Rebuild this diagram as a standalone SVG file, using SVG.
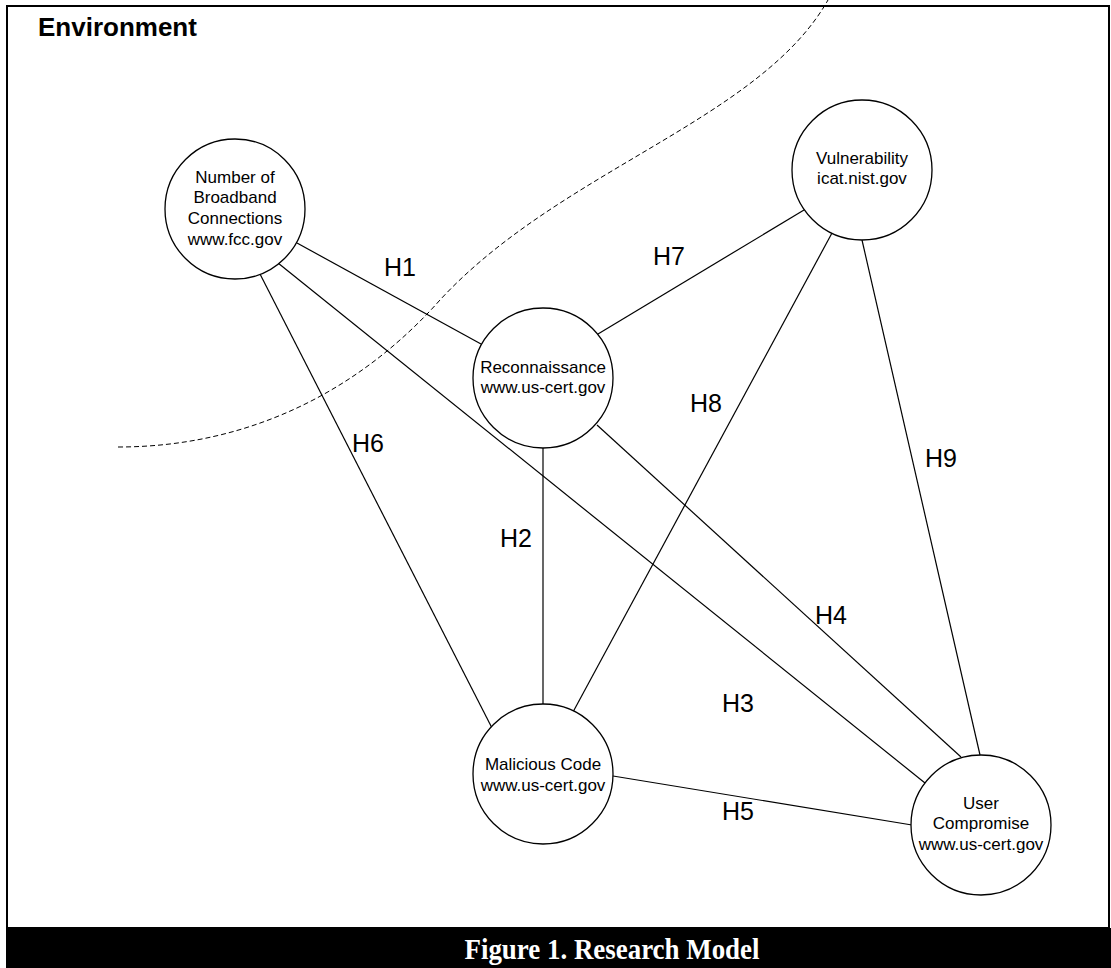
<svg xmlns="http://www.w3.org/2000/svg" width="1111" height="968" viewBox="0 0 1111 968">
<style>
.node circle{fill:#fff;stroke:#000;stroke-width:1.3}
.node text{font-family:"Liberation Sans",Arial,sans-serif;font-size:17px;fill:#000;text-anchor:middle}
#edges line{stroke:#000;stroke-width:1.2}
.lbl{font-family:"Liberation Sans",Arial,sans-serif;font-size:25px;fill:#000}
</style>
<rect x="0" y="0" width="1111" height="968" fill="#fff"/>
<rect x="7" y="6" width="1102" height="922" fill="none" stroke="#000" stroke-width="2"/>
<text x="38" y="36" font-family="Liberation Sans,Arial,sans-serif" font-size="26" font-weight="bold">Environment</text>
<path d="M118,447 C 250,447 360,390 440,300 C 560,170 760,120 828,0" fill="none" stroke="#000" stroke-width="1" stroke-dasharray="5,3"/>
<g id="edges">
<line x1="297" y1="243" x2="481" y2="344"/>
<line x1="260" y1="274" x2="492" y2="728"/>
<line x1="278" y1="263" x2="925" y2="783"/>
<line x1="598" y1="334" x2="804" y2="210"/>
<line x1="543" y1="448" x2="543" y2="705"/>
<line x1="597" y1="425" x2="961" y2="757"/>
<line x1="832" y1="233" x2="573" y2="712"/>
<line x1="862" y1="240" x2="980" y2="755"/>
<line x1="613" y1="776" x2="912" y2="825"/>
</g>
<g id="labels">
<text class="lbl" x="384" y="276">H1</text>
<text class="lbl" x="653" y="265">H7</text>
<text class="lbl" x="690" y="412">H8</text>
<text class="lbl" x="352" y="452">H6</text>
<text class="lbl" x="925" y="467">H9</text>
<text class="lbl" x="500" y="547">H2</text>
<text class="lbl" x="815" y="624">H4</text>
<text class="lbl" x="722" y="712">H3</text>
<text class="lbl" x="722" y="820">H5</text>
</g>
<g id="node-broadband" class="node">
<circle cx="235" cy="209" r="70"/>
<text x="235" y="183">Number of</text>
<text x="235" y="203">Broadband</text>
<text x="235" y="224">Connections</text>
<text x="235" y="245">www.fcc.gov</text>
</g>
<g id="node-recon" class="node">
<circle cx="543" cy="378" r="70"/>
<text x="543" y="373">Reconnaissance</text>
<text x="543" y="393">www.us-cert.gov</text>
</g>
<g id="node-vuln" class="node">
<circle cx="862" cy="170" r="70"/>
<text x="862" y="164">Vulnerability</text>
<text x="862" y="184">icat.nist.gov</text>
</g>
<g id="node-malicious" class="node">
<circle cx="543" cy="774" r="70"/>
<text x="543" y="770">Malicious Code</text>
<text x="543" y="791">www.us-cert.gov</text>
</g>
<g id="node-user" class="node">
<circle cx="981" cy="825" r="70"/>
<text x="981" y="809">User</text>
<text x="981" y="829">Compromise</text>
<text x="981" y="850">www.us-cert.gov</text>
</g>
<rect x="6" y="928" width="1105" height="40" fill="#000"/>
<text x="612" y="959" text-anchor="middle" font-family="Liberation Serif,Times New Roman,serif" font-size="30" font-weight="bold" fill="#fff" textLength="295" lengthAdjust="spacingAndGlyphs">Figure 1. Research Model</text>
</svg>
